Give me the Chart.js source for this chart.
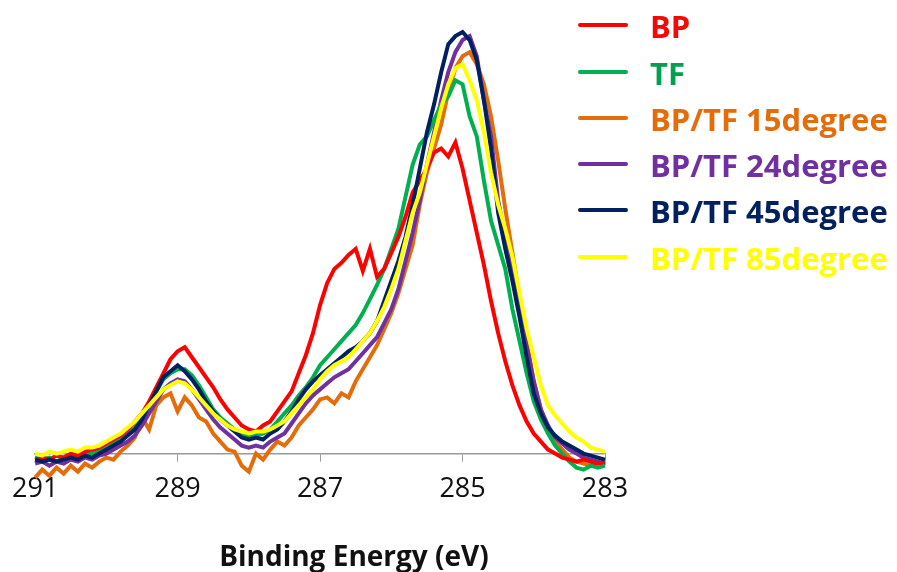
<!DOCTYPE html>
<html>
<head>
<meta charset="utf-8">
<script src="https://cdn.jsdelivr.net/npm/chart.js@4.4.1/dist/chart.umd.min.js"></script>
<style>
    body { margin: 0; background: #fff; }
    #wrap { position: relative; width: 897px; height: 572px; overflow: hidden; }
    #xpsChart { position: absolute; left: 0; top: 0; }
    .leg-line { position: absolute; left: 578px; width: 50px; height: 4px; border-radius: 2px; }
    .leg-text { position: absolute; left: 650px; font: bold 31px "Open Sans", sans-serif; line-height: 36px; white-space: nowrap; }
    #xTitle { position: absolute; left: 354px; top: 538px; transform: translateX(-50%); font: bold 28px "Open Sans", sans-serif; line-height: 34px; color: #111; white-space: nowrap; }
</style>
</head>
<body>
<div id="wrap">
    <canvas id="xpsChart" width="897" height="572"></canvas>
    <div id="legend"></div>
    <div id="xTitle">Binding Energy (eV)</div>
</div>
<script>
// Binding energy grid (eV), 291 -> 283
const energies = [
    291.0, 290.9, 290.8, 290.7, 290.6, 290.5, 290.4, 290.3, 290.2, 290.1,
    290.0, 289.9, 289.8, 289.7, 289.6, 289.5, 289.4, 289.3, 289.2, 289.1,
    289.0, 288.9, 288.8, 288.7, 288.6, 288.5, 288.4, 288.3, 288.2, 288.1,
    288.0, 287.9, 287.8, 287.7, 287.6, 287.5, 287.4, 287.3, 287.2, 287.1,
    287.0, 286.9, 286.8, 286.7, 286.6, 286.5, 286.4, 286.3, 286.2, 286.1,
    286.0, 285.9, 285.8, 285.7, 285.6, 285.5, 285.4, 285.3, 285.2, 285.1,
    285.0, 284.9, 284.8, 284.7, 284.6, 284.5, 284.4, 284.3, 284.2, 284.1,
    284.0, 283.9, 283.8, 283.7, 283.6, 283.5, 283.4, 283.3, 283.2, 283.1,
    283.0
];

// Intensities (arb. units)
const bp = [
    -1.5, -1, -1.5, -0.5, -1, 0, -0.5, 0.5, 1, 1.5,
    2.5, 3.5, 4.5, 6, 8, 10, 13, 16.5, 20, 23.5,
    25.5, 26.5, 24, 21.5, 19, 16.5, 13.5, 11, 9, 7,
    6, 5.5, 7, 8, 10.5, 13, 15.5, 20, 24.5, 30,
    37, 42.5, 46, 47.5, 49.5, 51, 45.5, 51, 44, 46,
    50, 54, 59, 65, 68, 71, 75, 76, 74, 77.5,
    71, 63, 55, 47, 38, 30, 23, 17, 12, 8,
    5, 3, 1, 0, -1, -1.5, -2, -1.5, -2, -2.5,
    -2
];
const tf = [
    -1, -1.5, -1, -2, -1, -0.5, -1, 0, 0, 1,
    1.5, 2.5, 3.5, 5, 6.5, 9, 12.5, 15.5, 18.5, 20,
    21, 21, 19.5, 17, 14, 11, 9, 7.5, 6, 5,
    4, 4.5, 5, 6, 8, 10, 12, 14.5, 16.5, 19,
    22, 24, 26, 28, 30, 32, 35, 38.5, 42, 46,
    51, 56, 64, 72, 77, 79, 83, 87, 89, 93,
    92, 84, 79, 68, 58, 52, 46, 36, 28, 20,
    13, 8.5, 5, 2, 0, -2, -3.5, -4, -3, -3.5,
    -3
];
const deg15 = [
    -6, -4, -5.5, -3.5, -5, -3, -4.5, -2.5, -3.5, -2,
    -1, -1.5, 0.5, 2, 4, 9, 6, 12, 14, 15,
    10.5, 14, 12, 9, 8, 5, 3, 1, 0.5, -3,
    -4.5, 0, -1.5, 1, 3, 2, 4, 7, 9, 11,
    13.5, 14, 12.5, 15, 14, 18, 21, 24, 27, 31,
    35, 40, 46, 52, 62, 70, 76, 82, 90, 96,
    99, 100, 97, 92, 84, 73, 61, 50, 39, 28,
    18, 11, 6, 3, 1, -1, -2, -2.5, -3, -2,
    -3
];
const deg24 = [
    -2.5, -2, -3, -2, -2.5, -1.5, -2, -1, -1.5, -0.5,
    0, 1, 2, 3, 4.5, 7, 10, 13, 16, 17.5,
    18.5, 18, 16, 13.5, 11, 8.5, 6.5, 5, 3.5, 2,
    1.5, 2, 1.5, 3, 4, 5, 7.5, 10, 12.5, 14.5,
    16, 17.5, 19, 20, 21, 23, 25, 27, 29, 32.5,
    36, 41, 48, 55, 63, 72, 80, 88, 95, 100,
    103, 104, 99, 88, 79, 63, 54, 46, 37, 27,
    18, 11, 7, 4, 2.5, 1, 0, -1, -1.5, -2,
    -2.5
];
const deg45 = [
    -1.5, -2, -1.5, -2, -1.5, -1, -1.5, -0.5, -1, 0,
    1, 2, 3, 4.5, 6, 8.5, 12, 15.5, 19, 20.5,
    22, 20.5, 18.5, 16, 13, 10.5, 8.5, 7, 5.5, 4,
    3.5, 4, 3.5, 5, 6, 8, 10.5, 13.5, 16, 18,
    19.5, 21, 22.5, 24, 25.5, 26.5, 28, 30, 33, 38,
    43, 48, 54, 62, 71, 80, 87, 95, 102, 104,
    105, 103, 98, 88, 76, 60, 51, 43, 34, 24,
    15, 10, 6.5, 4.5, 3, 2, 1, 0, -0.5, -1,
    -1.5
];
const deg85 = [
    0, -0.5, 0.5, 0, 0.5, 1, 0.5, 1.5, 1.5, 2,
    3, 4, 5, 6.5, 8, 10, 12, 14, 16, 17,
    18, 17.5, 16, 14, 12, 10, 8.5, 7, 6, 5.5,
    5, 5.5, 5.5, 6, 7, 8, 10, 12, 14, 16,
    18.5, 20.5, 22, 23, 24, 26, 28, 30, 33, 36.5,
    41, 46, 53, 60, 65, 72, 79, 86, 92, 96,
    97, 93, 88, 80, 70, 62, 56, 49, 40, 31,
    24, 17, 12, 9.5, 7.5, 5.5, 4, 3, 1.5, 1,
    0.5
];

const seriesNames = ['BP', 'TF', 'BP/TF 15degree', 'BP/TF 24degree', 'BP/TF 45degree', 'BP/TF 85degree'];
const seriesData = [bp, tf, deg15, deg24, deg45, deg85];
const lineColors = ['#ff0000', '#00b050', '#e46c0a', '#7030a0', '#002060', '#ffff00'];
const textColors = ['#f00a0a', '#00a050', '#e46c0a', '#7030a0', '#002060', '#ffff00'];
// lower number is drawn on top
const drawOrder = [2, 3, 5, 4, 1, 0];
const xTicks = [291, 289, 287, 285, 283];
const legendRows = [25, 72, 118, 164, 210, 257];

document.addEventListener('DOMContentLoaded', () => {
    // Legend, built as plain HTML
    const legend = document.getElementById('legend');
    seriesNames.forEach((name, i) => {
        const line = document.createElement('div');
        line.className = 'leg-line';
        line.style.top = (legendRows[i] - 2) + 'px';
        line.style.background = lineColors[i];
        legend.appendChild(line);

        const text = document.createElement('div');
        text.className = 'leg-text';
        text.style.top = (legendRows[i] - 17) + 'px';
        text.style.color = textColors[i];
        text.textContent = name;
        legend.appendChild(text);
    });

    const datasets = seriesNames.map((name, i) => ({
        label: name,
        data: energies.map((e, k) => ({ x: e, y: seriesData[i][k] })),
        borderColor: lineColors[i],
        backgroundColor: lineColors[i],
        borderWidth: 4,
        pointRadius: 0,
        tension: 0,
        clip: false,
        order: drawOrder[i]
    }));

    const ctx = document.getElementById('xpsChart').getContext('2d');
    new Chart(ctx, {
        type: 'line',
        data: { datasets: datasets },
        options: {
            responsive: false,
            animation: false,
            events: [],
            layout: {
                padding: { left: 32, right: 292, top: 20, bottom: 54 }
            },
            plugins: {
                legend: { display: false },
                tooltip: { enabled: false }
            },
            scales: {
                x: {
                    type: 'linear',
                    reverse: true,
                    min: 283,
                    max: 291,
                    afterBuildTicks: (axis) => {
                        axis.ticks = xTicks.map(v => ({ value: v }));
                    },
                    ticks: {
                        color: '#111',
                        font: { family: 'Open Sans', size: 27 },
                        padding: 12,
                        maxRotation: 0,
                        autoSkip: false
                    },
                    grid: {
                        drawOnChartArea: false,
                        drawTicks: true,
                        tickLength: 8,
                        color: '#9a9a9a'
                    },
                    border: { display: true, color: '#9a9a9a', width: 1.5 }
                },
                y: {
                    display: false,
                    min: 0,
                    max: 108
                }
            }
        }
    });
});
</script>
</body>
</html>
